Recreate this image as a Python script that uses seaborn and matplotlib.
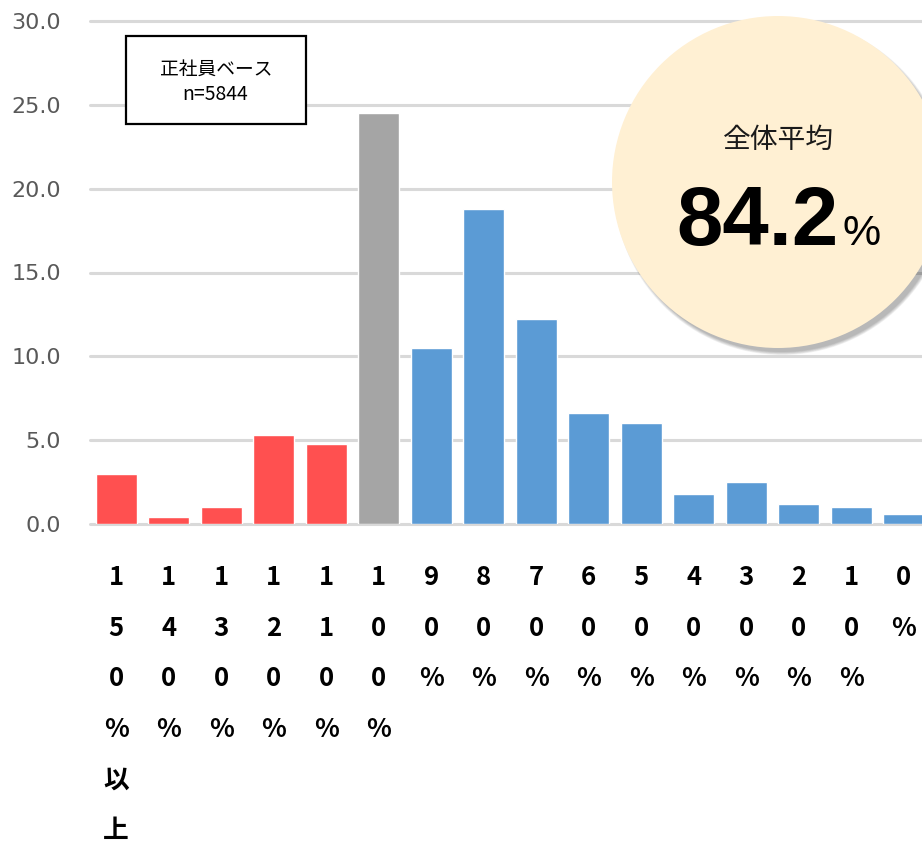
import matplotlib
matplotlib.use("Agg")
import matplotlib.pyplot as plt
import pandas as pd
import seaborn as sns
from matplotlib.patches import Circle, Rectangle

# Share of regular employees by ratio band (%)
categories = ["150%以上", "140%", "130%", "120%", "110%", "100%", "90%", "80%",
              "70%", "60%", "50%", "40%", "30%", "20%", "10%", "0%"]
shares = [3.0, 0.4, 1.0, 5.3, 4.8, 24.5, 10.5, 18.8, 12.2, 6.6, 6.0, 1.8, 2.5, 1.2, 1.0, 0.6]
groups = ["over"] * 5 + ["same"] + ["under"] * 10
group_colors = {"over": "#FF5050", "same": "#A5A5A5", "under": "#5B9BD5"}
y_ticks = [0, 5, 10, 15, 20, 25, 30]

base_label = "正社員ベース"
sample_label = "n=5844"
average_title = "全体平均"
average_value = 84.2

sns.set_theme(style="white")
plt.rcParams["font.family"] = ["Noto Sans CJK JP", "DejaVu Sans"]

W, H = 922, 844
fig = plt.figure(figsize=(W / 100, H / 100), dpi=100)
fig.patch.set_facecolor("white")

# axes in pixel terms: left 90, zero line at y=524, top line at y=21
ax = fig.add_axes([90 / W, (H - 524) / H, 840 / W, 503 / H])

df = pd.DataFrame({"category": categories, "share": shares, "group": groups})
sns.barplot(data=df, x="category", y="share", hue="group", palette=group_colors,
            order=categories, dodge=False, width=0.78, saturation=1,
            legend=False, ax=ax, zorder=2)

ax.set_xlim(-0.5, len(categories) - 0.5)
ax.set_ylim(0, 30)
ax.set_xlabel("")
ax.set_ylabel("")
for s in ax.spines.values():
    s.set_visible(False)

ax.set_yticks(y_ticks)
ax.set_yticklabels([f"{v:.1f}" for v in y_ticks], color="#595959",
                   fontsize=16, family="DejaVu Sans")
ax.yaxis.grid(True, color="#D9D9D9", linewidth=2.2)
ax.xaxis.grid(False)
ax.set_axisbelow(True)
for gl in ax.get_ygridlines():
    gl.set_clip_on(False)
ax.tick_params(axis="y", length=0, pad=21)

# vertical, one-character-per-line category labels
ax.set_xticks(range(len(categories)))
ax.set_xticklabels(["\n".join(c) for c in categories], fontsize=18.5,
                   fontweight="bold", color="black", linespacing=2.12)
ax.tick_params(axis="x", length=0, pad=29)

inch = fig.dpi_scale_trans

def px(x, y):
    return x / 100, (H - y) / 100

# sample base box
bx, by = px(126, 124)
fig.add_artist(Rectangle((bx, by), 1.80, 0.88, transform=inch, facecolor="white",
                         edgecolor="black", linewidth=1.6, zorder=3))
fig.text(*px(216, 69), base_label, transform=inch, ha="center", va="center",
         fontsize=13.5, color="black", zorder=4)
fig.text(*px(215, 94), sample_label, transform=inch, ha="center", va="center",
         fontsize=14, color="black", zorder=4)

# overall average badge with soft shadow toward the lower right
cx, cy = px(778, 182)
r = 1.66
for k in range(6):
    fig.add_artist(Circle((cx + 0.04, cy - 0.05), r - 0.01 + 0.006 * k, transform=inch,
                          facecolor="#000000", alpha=0.05, edgecolor="none", zorder=3))
fig.add_artist(Circle((cx, cy), r, transform=inch, facecolor="#FFF0D3",
                      edgecolor="none", zorder=4))
fig.text(*px(778, 140), average_title, transform=inch, ha="center", va="center",
         fontsize=20, color="#1a1a1a", zorder=5)
fig.text(*px(839, 245), f"{average_value:.1f}", transform=inch, ha="right",
         va="baseline", fontsize=60, fontweight="bold", color="black",
         family="Liberation Sans", zorder=5)
fig.text(*px(843, 245), "%", transform=inch, ha="left", va="baseline",
         fontsize=31, color="black", family="Liberation Sans", zorder=5)

fig.savefig("out.png", dpi=100, facecolor="white")
